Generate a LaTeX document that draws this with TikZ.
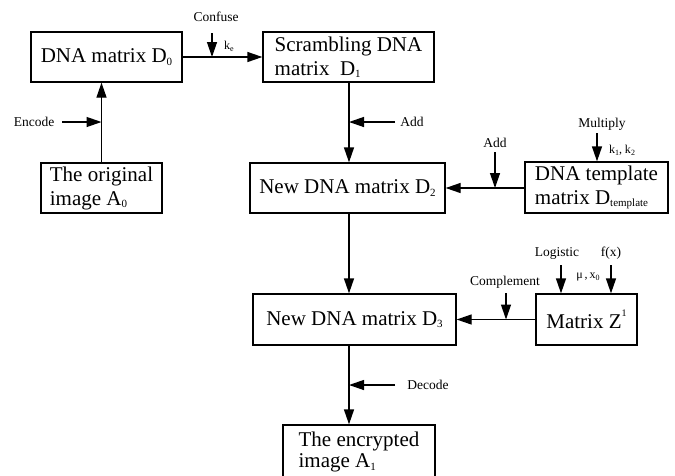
\documentclass[tikz,border=0pt]{standalone}
\usepackage{fontspec}
\setmainfont{Liberation Serif}
\usetikzlibrary{arrows.meta}
\newcommand\lowsub[1]{\raisebox{-0.12em}{\fontsize{11}{11}\selectfont #1}}
\newcommand\tinysub[1]{\raisebox{-0.15em}{\fontsize{8}{8}\selectfont #1}}
\begin{document}
\begin{tikzpicture}[x=1pt,y=-1pt,
  box/.style={draw, line width=1.3pt, inner sep=0pt, align=left, font=\fontsize{21}{24}\selectfont},
  arr/.style={line width=1.3pt, -{Triangle[length=15pt,width=10pt]}},
  lbl/.style={font=\fontsize{13.5}{15}\selectfont, inner sep=0pt},
  klbl/.style={font=\fontsize{12}{13}\selectfont, inner sep=0pt}]
\useasboundingbox (0,0) rectangle (675,475);
% boxes
\node[box, minimum width=151pt, minimum height=50pt] (D0) at (106.5,57) {DNA matrix D\lowsub{0}};
\node[box, minimum width=171pt, minimum height=50pt] (D1) at (348.5,57) {Scrambling DNA\\matrix\ \ D\lowsub{1}};
\node[box, minimum width=121pt, minimum height=50pt] (A0) at (101.5,188) {The original\\image A\lowsub{0}};
\node[box, minimum width=195pt, minimum height=50pt] (D2) at (347.5,188) {New DNA matrix D\lowsub{2}};
\node[box, minimum width=143pt, minimum height=51pt] (T) at (596.5,187.5) {DNA template\\matrix D\lowsub{template}};
\node[box, minimum width=203pt, minimum height=51pt] (D3) at (354.5,319.5) {New DNA matrix D\lowsub{3}};
\node[box, minimum width=101pt, minimum height=51pt] (Z) at (586.5,319.5) {Matrix Z\raisebox{0.55em}{\fontsize{10}{10}\selectfont 1}};
\node[box, minimum width=152pt, minimum height=54pt, font=\fontsize{21}{21}\selectfont] (A1) at (359,452) {The encrypted\\image A\lowsub{1}};
% coordinates of side arrows
\coordinate (enc) at (62,122);
\coordinate (cf) at (212,33);
\coordinate (add1) at (395,122);
\coordinate (add2) at (495,152);
\coordinate (mul) at (597,133);
\coordinate (comp) at (506,293);
\coordinate (logi) at (561,265);
\coordinate (fx) at (611,265);
\coordinate (dec) at (395,385);
% main connectors
\draw[arr] (A0.north) -- (A0.north |- D0.south);
\draw[arr] (D0.east) -- (D0.east -| D1.west);
\draw[arr] (349,82) coordinate (d1s) -- (d1s |- D2.north);
\draw[arr] (T.west |- D2.east) -- (D2.east);
\draw[arr] (349,213) coordinate (d2s) -- (d2s |- D3.north);
\draw[arr] (Z.west) -- (Z.west -| D3.east);
\draw[arr] (349,345) coordinate (d3s) -- (d3s |- A1.north);
% side arrows
\draw[arr] (enc) -- (enc -| A0.north);
\draw[arr] (cf) -- (cf |- D0.east);
\draw[arr] (add1) -- (add1 -| d1s);
\draw[arr] (add2) -- (add2 |- D2.east);
\draw[arr] (mul) -- (mul |- T.north);
\draw[arr] (comp) -- (comp |- Z.west);
\draw[arr] (logi) -- (logi |- Z.north);
\draw[arr] (fx) -- (fx |- Z.north);
\draw[arr] (dec) -- (dec -| d3s);
% labels
\node[lbl] (tenc) at (34,122) {Encode};
\node[lbl] (tconf) at (216,17) {Confuse};
\node[klbl] (tke) at (229,46) {k\tinysub{e}};
\node[lbl] (tadd1) at (412,122) {Add};
\node[lbl] (tadd2) at (495,143) {Add};
\node[lbl] (tmul) at (602,124) {Multiply};
\node[klbl] (tk) at (622,150) {k\tinysub{1}, k\tinysub{2}};
\node[lbl] (tcomp) at (505,282) {Complement};
\node[lbl] (tlog) at (557,253) {Logistic};
\node[lbl] (tfx) at (611,253) {f(x)};
\node[klbl] (tmu) at (588,277) {μ\,,\,x\tinysub{0}};
\node[lbl] (tdec) at (428,385) {Decode};
\end{tikzpicture}
\end{document}
